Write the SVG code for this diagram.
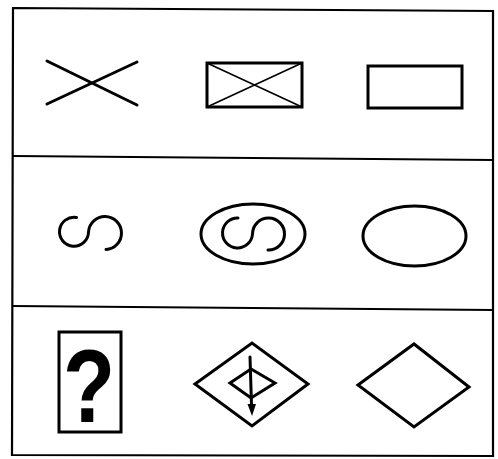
<svg xmlns="http://www.w3.org/2000/svg" width="498" height="459" viewBox="0 0 498 459">
<style>
.s{fill:none;stroke:#000;stroke-width:3;stroke-linejoin:miter;stroke-linecap:round}
.t{fill:none;stroke:#000;stroke-width:1.6}
.f{fill:none;stroke:#000;stroke-width:2.2}
</style>
<rect width="498" height="459" fill="#fff"/>
<g id="frame">
<path class="f" d="M13 8 L493 11 L493 456 L12 455 Z"/>
<path class="f" d="M13 156 L493 160"/>
<path class="f" d="M12 306 L493 310"/>
</g>
<g id="row1">
<g id="cross"><path class="s" d="M47 61 L137 105 M47 104 L137 62"/></g>
<g id="boxcross"><rect class="s" x="207" y="63" width="95" height="44"/><path class="t" d="M207 63 L302 107 M207 107 L302 63"/></g>
<g id="rect1"><rect class="s" x="368" y="66" width="94" height="42"/></g>
</g>
<g id="row2">
<g id="s1"><path class="s" d="M76.5 217.5 A14.5 14.5 0 1 0 88.5 232 A16.5 16.5 0 1 1 106 249.5"/></g>
<g id="ellipseS"><ellipse class="s" cx="253" cy="234" rx="52" ry="30"/><path class="s" d="M238 218 A15 15 0 1 0 252.5 234 A16 16 0 1 1 268 250"/></g>
<g id="ellipse1"><ellipse class="s" cx="414.5" cy="236" rx="51.5" ry="30"/></g>
</g>
<g id="row3">
<g id="question"><rect class="s" x="59" y="332" width="62" height="100"/><text x="0" y="0" transform="translate(89,422) scale(0.82,1)" text-anchor="middle" font-family="Liberation Sans, Arial, sans-serif" font-weight="bold" font-size="104">?</text></g>
<g id="diamondArrow"><path class="s" d="M195 384 L252 343 L308 384 L252 426 Z"/><path class="s" d="M230 383 L251 369 L275 383 L251 398 Z"/><path class="s" d="M250 357 L251.5 405"/><path d="M247.5 404 L256 404 L252 416 Z" fill="#000"/></g>
<g id="diamond1"><path class="s" d="M358 385 L414 344 L469 387 L414 427 Z"/></g>
</g>
</svg>
